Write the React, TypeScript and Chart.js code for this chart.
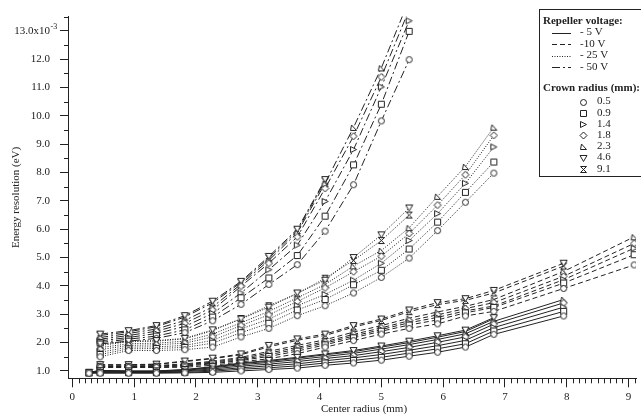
import React, { useEffect, useRef } from 'react';
import { Chart, registerables } from 'chart.js';

Chart.register(...registerables);

// ---- data ----
const CENTER_RADIUS = [0.27, 0.45, 0.91, 1.36, 1.82, 2.27, 2.73, 3.18, 3.64, 4.09, 4.55, 5.0, 5.45, 5.91, 6.36, 6.82, 7.95, 9.09];
const CROWN_RADII = ['0.5', '0.9', '1.4', '1.8', '2.3', '4.6', '9.1'];
const VOLTAGE_LABELS = ['- 5 V', '-10 V', '- 25 V', '- 50 V'];
const X_TICKS = [0, 1, 2, 3, 4, 5, 6, 7, 8, 9];
const Y_TICKS = [1, 2, 3, 4, 5, 6, 7, 8, 9, 10, 11, 12, 13];

// -5 V (solid)
const v5_r05 = [0.92, 0.92, 0.92, 0.92, 0.93, 0.95, 1.0, 1.05, 1.1, 1.2, 1.28, 1.38, 1.52, 1.66, 1.84, 2.29, 2.94, null];
const v5_r09 = [0.93, 0.94, 0.94, 0.94, 0.95, 0.99, 1.06, 1.11, 1.18, 1.28, 1.37, 1.48, 1.63, 1.78, 1.96, 2.41, 3.1, null];
const v5_r14 = [0.93, 0.96, 0.95, 0.95, 0.98, 1.03, 1.11, 1.18, 1.25, 1.36, 1.46, 1.58, 1.73, 1.89, 2.08, 2.53, 3.25, null];
const v5_r18 = [0.94, 0.98, 0.97, 0.97, 1.0, 1.07, 1.17, 1.24, 1.33, 1.44, 1.54, 1.68, 1.83, 2.01, 2.2, 2.65, 3.4, null];
const v5_r23 = [0.94, 1.0, 0.98, 0.98, 1.02, 1.11, 1.22, 1.3, 1.4, 1.51, 1.62, 1.77, 1.93, 2.11, 2.31, 2.75, 3.52, null];
const v5_r46 = [0.95, 1.02, 1.0, 1.0, 1.05, 1.15, 1.28, 1.37, 1.48, 1.6, 1.72, 1.88, 2.05, 2.24, 2.44, 2.88, null, null];
const v5_r91 = [0.95, 1.01, 0.99, 0.99, 1.04, 1.13, 1.26, 1.34, 1.45, 1.57, 1.68, 1.84, 2.0, 2.19, 2.39, 2.84, null, null];

// -10 V (dashed)
const v10_r05 = [null, 1.12, 1.12, 1.12, 1.13, 1.2, 1.32, 1.43, 1.61, 1.84, 2.07, 2.3, 2.5, 2.66, 2.94, 3.1, 3.91, 4.74];
const v10_r09 = [null, 1.14, 1.14, 1.14, 1.17, 1.25, 1.37, 1.51, 1.7, 1.92, 2.17, 2.4, 2.62, 2.8, 3.05, 3.24, 4.1, 5.1];
const v10_r14 = [null, 1.15, 1.15, 1.16, 1.2, 1.28, 1.4, 1.57, 1.77, 1.98, 2.23, 2.46, 2.7, 2.89, 3.12, 3.29, 4.22, 5.33];
const v10_r18 = [null, 1.16, 1.16, 1.17, 1.22, 1.31, 1.44, 1.63, 1.83, 2.03, 2.29, 2.52, 2.77, 2.98, 3.2, 3.41, 4.34, 5.5];
const v10_r23 = [null, 1.18, 1.18, 1.19, 1.25, 1.34, 1.48, 1.69, 1.9, 2.1, 2.37, 2.6, 2.86, 3.08, 3.28, 3.52, 4.51, 5.73];
const v10_r46 = [null, 1.22, 1.22, 1.24, 1.35, 1.45, 1.6, 1.9, 2.13, 2.3, 2.6, 2.83, 3.15, 3.41, 3.55, 3.84, 4.8, null];
const v10_r91 = [null, 1.21, 1.21, 1.23, 1.33, 1.43, 1.57, 1.85, 2.08, 2.25, 2.55, 2.78, 3.09, 3.34, 3.49, 3.75, 4.7, null];

// -25 V (dotted)
const v25_r05 = [null, 1.5, 1.72, 1.72, 1.75, 1.84, 2.2, 2.5, 2.95, 3.3, 3.75, 4.3, 4.98, 5.95, 6.95, 7.98, null, null];
const v25_r09 = [null, 1.58, 1.78, 1.79, 1.83, 1.98, 2.35, 2.68, 3.15, 3.52, 4.04, 4.55, 5.3, 6.25, 7.3, 8.37, null, null];
const v25_r14 = [null, 1.66, 1.84, 1.85, 1.9, 2.08, 2.48, 2.83, 3.3, 3.7, 4.2, 4.8, 5.6, 6.55, 7.62, 8.9, null, null];
const v25_r18 = [null, 1.75, 1.9, 1.92, 1.98, 2.2, 2.6, 2.98, 3.45, 3.93, 4.5, 5.05, 5.85, 6.85, 7.92, 9.31, null, null];
const v25_r23 = [null, 1.82, 1.96, 1.98, 2.05, 2.3, 2.7, 3.1, 3.58, 4.05, 4.7, 5.25, 6.05, 7.16, 8.21, 9.6, null, null];
const v25_r46 = [null, 1.95, 2.05, 2.07, 2.15, 2.45, 2.83, 3.25, 3.75, 4.2, 5.0, 5.8, 6.75, null, null, null, null, null];
const v25_r91 = [null, 1.9, 2.03, 2.05, 2.13, 2.42, 2.85, 3.3, 3.72, 4.27, 4.9, 5.6, 6.5, null, null, null, null, null];

// -50 V (dash-dot)
const v50_r05 = [null, 1.95, 2.05, 2.15, 2.35, 2.77, 3.35, 4.05, 4.75, 5.93, 7.57, 9.82, 11.98, null, null, null, null, null];
const v50_r09 = [null, 2.0, 2.12, 2.23, 2.45, 2.9, 3.58, 4.28, 5.07, 6.46, 8.27, 10.41, 12.98, null, null, null, null, null];
const v50_r14 = [null, 2.06, 2.18, 2.32, 2.57, 3.03, 3.75, 4.57, 5.44, 6.98, 8.81, 11.02, 13.35, null, null, null, null, null];
const v50_r18 = [null, 2.12, 2.25, 2.4, 2.68, 3.15, 3.99, 4.8, 5.73, 7.44, 9.28, 11.37, 13.75, null, null, null, null, null];
const v50_r23 = [null, 2.18, 2.32, 2.48, 2.78, 3.26, 4.06, 4.9, 5.88, 7.62, 9.59, 11.69, 14.1, null, null, null, null, null];
const v50_r46 = [null, 2.3, 2.42, 2.6, 2.95, 3.46, 4.16, 5.04, 6.0, 7.75, null, null, null, null, null, null, null, null];
const v50_r91 = [null, 2.25, 2.38, 2.56, 2.9, 3.4, 4.12, 4.98, 5.95, 7.7, null, null, null, null, null, null, null, null];

const SERIES_BY_VOLTAGE = [
  [v5_r05, v5_r09, v5_r14, v5_r18, v5_r23, v5_r46, v5_r91],
  [v10_r05, v10_r09, v10_r14, v10_r18, v10_r23, v10_r46, v10_r91],
  [v25_r05, v25_r09, v25_r14, v25_r18, v25_r23, v25_r46, v25_r91],
  [v50_r05, v50_r09, v50_r14, v50_r18, v50_r23, v50_r46, v50_r91],
];

const DASHES = [[], [5, 3], [1, 1.5], [8, 3, 2, 3]];
const SERIF = '"Liberation Serif", "DejaVu Serif", serif';
const INK = '#222';

// ---- marker glyphs ----
function makeMarker(kind: number): HTMLCanvasElement {
  const c = document.createElement('canvas');
  c.width = 9;
  c.height = 9;
  const g = c.getContext('2d')!;
  g.lineWidth = 1;
  g.strokeStyle = INK;
  g.fillStyle = '#fff';
  g.beginPath();
  switch (kind) {
    case 0: g.arc(4.5, 4.5, 3, 0, Math.PI * 2); break;
    case 1: g.rect(1.5, 1.5, 6, 6); break;
    case 2: g.moveTo(1.5, 1.5); g.lineTo(7.5, 4.5); g.lineTo(1.5, 7.5); g.closePath(); break;
    case 3: g.moveTo(4.5, 1); g.lineTo(8, 4.5); g.lineTo(4.5, 8); g.lineTo(1, 4.5); g.closePath(); break;
    case 4: g.moveTo(2.5, 2); g.lineTo(7.5, 7.5); g.lineTo(1.5, 7.5); g.closePath(); break;
    case 5: g.moveTo(1, 1.5); g.lineTo(8, 1.5); g.lineTo(4.5, 7.5); g.closePath(); break;
    default: g.moveTo(1.5, 1.5); g.lineTo(7.5, 1.5); g.lineTo(1.5, 7.5); g.lineTo(7.5, 7.5); g.closePath(); break;
  }
  g.fill();
  g.stroke();
  return c;
}

export default function App() {
  const ref = useRef<HTMLCanvasElement | null>(null);

  useEffect(() => {
    if (!ref.current) return;
    const markers = CROWN_RADII.map((_, i) => makeMarker(i));

    const datasets: any[] = [];
    SERIES_BY_VOLTAGE.forEach((group, vi) => {
      group.forEach((vals, ri) => {
        const pts: { x: number; y: number }[] = [];
        vals.forEach((v, i) => {
          if (v !== null) pts.push({ x: CENTER_RADIUS[i], y: v as number });
        });
        datasets.push({
          label: VOLTAGE_LABELS[vi] + ' / ' + CROWN_RADII[ri],
          data: pts,
          borderColor: INK,
          borderWidth: 1,
          borderDash: DASHES[vi],
          tension: 0,
          fill: false,
          pointStyle: markers[ri],
          pointRadius: 4,
          pointHoverRadius: 4,
        });
      });
    });

    const extras = {
      id: 'extras',
      afterDraw(chart: any) {
        const { ctx, chartArea, scales } = chart;
        const xs = scales.x;
        const ys = scales.y;
        ctx.save();
        ctx.strokeStyle = INK;
        ctx.lineWidth = 1;
        // minor ticks x
        ctx.beginPath();
        for (let k = 1; k <= 91; k++) {
          if (k % 10 === 0) continue;
          const px = Math.round(xs.getPixelForValue(k / 10)) + 0.5;
          if (px > chartArea.right) break;
          ctx.moveTo(px, chartArea.bottom);
          ctx.lineTo(px, chartArea.bottom + 5);
        }
        // minor ticks y
        for (let k = 3; k <= 27; k += 2) {
          const v = k / 2;
          const py = Math.round(ys.getPixelForValue(v)) + 0.5;
          if (py < chartArea.top) break;
          ctx.moveTo(chartArea.left, py);
          ctx.lineTo(chartArea.left - 4, py);
        }
        ctx.stroke();

        // superscript exponent on top tick
        ctx.fillStyle = INK;
        ctx.font = '8px ' + SERIF;
        ctx.textAlign = 'left';
        ctx.textBaseline = 'middle';
        ctx.fillText('-3', 50.5, ys.getPixelForValue(13) - 4);

        // axis titles
        ctx.font = '11px ' + SERIF;
        ctx.textAlign = 'center';
        ctx.textBaseline = 'middle';
        ctx.fillText('Center radius (mm)', 364, 409);
        ctx.save();
        ctx.translate(16, (chartArea.top + chartArea.bottom) / 2);
        ctx.rotate(-Math.PI / 2);
        ctx.fillText('Energy resolution (eV)', 0, 0);
        ctx.restore();

        // legend box
        const bx = 539.5, by = 9.5;
        ctx.fillStyle = '#fff';
        ctx.fillRect(bx, by, 641 - bx + 2, 167);
        ctx.strokeStyle = INK;
        ctx.strokeRect(bx, by, 641 - bx + 2, 167);
        ctx.fillStyle = INK;
        ctx.textAlign = 'left';
        ctx.font = 'bold 11px ' + SERIF;
        ctx.fillText('Repeller voltage:', 543, 21);
        ctx.font = '11px ' + SERIF;
        VOLTAGE_LABELS.forEach((lab, i) => {
          const y = 32.5 + i * 11.5;
          ctx.save();
          ctx.setLineDash(DASHES[i]);
          ctx.beginPath();
          ctx.moveTo(552, Math.round(y) + 0.5);
          ctx.lineTo(571, Math.round(y) + 0.5);
          ctx.stroke();
          ctx.restore();
          ctx.fillText(lab, 580, y);
        });
        ctx.font = 'bold 11px ' + SERIF;
        ctx.fillText('Crown radius (mm):', 543, 88);
        ctx.font = '11px ' + SERIF;
        CROWN_RADII.forEach((lab, i) => {
          const y = 101.5 + i * 11.2;
          ctx.drawImage(markers[i], 579, Math.round(y) - 4);
          ctx.fillText(lab, 597, y);
        });
        ctx.restore();
      },
    };

    const chart = new Chart(ref.current, {
      type: 'line',
      data: { datasets },
      options: {
        animation: false,
        responsive: false,
        maintainAspectRatio: false,
        layout: { padding: { top: 11.7, right: 3, left: 0, bottom: 0 } },
        plugins: { legend: { display: false }, tooltip: { enabled: false } },
        scales: {
          x: {
            type: 'linear',
            min: -0.07,
            max: 9.12,
            afterFit: (s: any) => { s.height = 36.7; },
            afterBuildTicks: (s: any) => { s.ticks = X_TICKS.map((v) => ({ value: v })); },
            ticks: {
              stepSize: 1,
              includeBounds: false,
              autoSkip: false,
              maxRotation: 0,
              padding: 3,
              color: INK,
              font: { family: SERIF, size: 11 },
              callback: (v: any) => String(v),
            },
            grid: { drawOnChartArea: false, drawTicks: true, tickLength: 9, color: INK, lineWidth: 1 },
            border: { display: true, color: INK, width: 1 },
          },
          y: {
            type: 'linear',
            min: 0.74,
            max: 13.5,
            afterFit: (s: any) => { s.width = 68; },
            afterBuildTicks: (s: any) => { s.ticks = Y_TICKS.map((v) => ({ value: v })); },
            ticks: {
              stepSize: 1,
              includeBounds: false,
              autoSkip: false,
              padding: 10,
              color: INK,
              font: { family: SERIF, size: 11 },
              callback: (v: any) => (Number(v) === 13 ? '13.0x10' : Number(v).toFixed(1)),
            },
            grid: { drawOnChartArea: false, drawTicks: true, tickLength: 8, color: INK, lineWidth: 1 },
            border: { display: true, color: INK, width: 1 },
          },
        },
      },
      plugins: [extras],
    });

    return () => chart.destroy();
  }, []);

  return (
    <div style={{ position: 'fixed', left: 0, top: 0, width: 641, height: 415, background: '#fff' }}>
      <canvas ref={ref} width={641} height={415} style={{ display: 'block' }} />
    </div>
  );
}
